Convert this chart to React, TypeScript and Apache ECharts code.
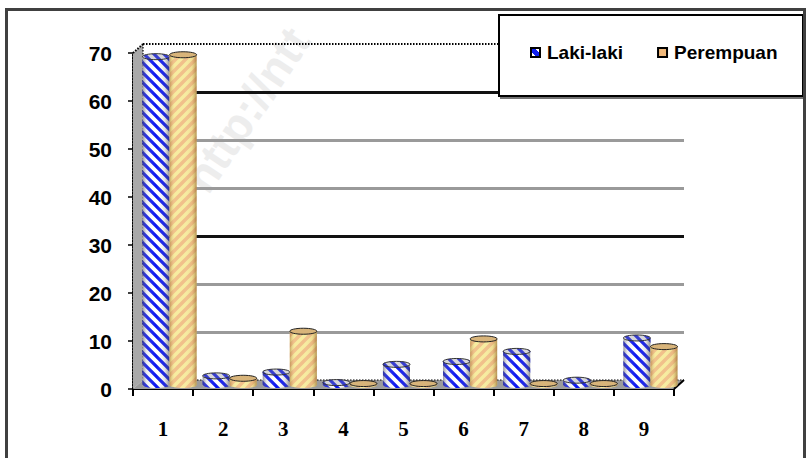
import React, { useEffect, useRef } from 'react';
import * as echarts from 'echarts';

// Category labels along the horizontal axis
const categories = ['1', '2', '3', '4', '5', '6', '7', '8', '9'];
// Series values (percent)
const lakiLaki = [68.4, 1.9, 2.7, 0.5, 4.3, 4.9, 7.0, 1.0, 9.8];
const perempuan = [68.8, 1.4, 11.2, 0.3, 0.3, 9.6, 0.3, 0.3, 8.0];
const seriesNames = ['Laki-laki', 'Perempuan'];
// Value axis range
const yMin = 0;
const yMax = 70;
const yStep = 10;

// pseudo-3D depth of the plot box (px)
const DX = 10;
const DY = -9;
const BAR_RATIO = 0.45;
const BAR_SHIFT_X = 6.5;
const BAR_SHIFT_Y = -4;
const CAP_RY = 3;

function stripeTile(bg: string, stripe: string, dir: 'back' | 'fwd', s: number, sw: number) {
  const h = s / 2;
  const d =
    dir === 'back'
      ? `M${-h} ${-h}L${s + h} ${s + h}M${-h} ${h}L${h} ${s + h}M${h} ${-h}L${s + h} ${h}`
      : `M${-h} ${s + h}L${s + h} ${-h}M${-h} ${h}L${h} ${-h}M${h} ${s + h}L${s + h} ${h}`;
  const svg = `<svg xmlns='http://www.w3.org/2000/svg' width='${s}' height='${s}'><rect width='${s}' height='${s}' fill='${bg}'/><path d='${d}' stroke='${stripe}' stroke-width='${sw}' fill='none'/></svg>`;
  return {
    image: 'data:image/svg+xml;charset=utf-8,' + encodeURIComponent(svg),
    repeat: 'repeat',
    imageWidth: s,
    imageHeight: s,
  };
}

const blueFill = stripeTile('#ffffff', '#0a14f0', 'back', 10, 3.2);
const tanFill = stripeTile('#f1c08a', '#f7ec9f', 'fwd', 10, 3.6);

const blueShade = {
  type: 'linear', x: 0, y: 0, x2: 1, y2: 0,
  colorStops: [
    { offset: 0, color: 'rgba(70,70,90,0.6)' },
    { offset: 0.15, color: 'rgba(160,160,170,0.2)' },
    { offset: 0.5, color: 'rgba(255,255,255,0)' },
    { offset: 0.82, color: 'rgba(130,130,140,0.2)' },
    { offset: 1, color: 'rgba(60,60,70,0.6)' },
  ],
};
const tanShade = {
  type: 'linear', x: 0, y: 0, x2: 1, y2: 0,
  colorStops: [
    { offset: 0, color: 'rgba(150,100,40,0.5)' },
    { offset: 0.2, color: 'rgba(255,230,170,0.05)' },
    { offset: 0.5, color: 'rgba(255,255,255,0)' },
    { offset: 0.82, color: 'rgba(200,150,80,0.15)' },
    { offset: 1, color: 'rgba(130,85,30,0.6)' },
  ],
};

function cylinder(side: number, body: any, shade: any, caps: any[]) {
  return (params: any, api: any) => {
    const i = api.value(0);
    const v = api.value(1);
    const base = api.coord([i, 0]);
    const top = api.coord([i, v]);
    const band = api.size([1, 0])[0];
    const w = band * BAR_RATIO;
    const rx = w / 2;
    const cx = base[0] + BAR_SHIFT_X + (side * w) / 2;
    const by = base[1] + BAR_SHIFT_Y;
    const ty = Math.min(top[1] + BAR_SHIFT_Y, by - 0.5);
    const bodyShape = { x: cx - rx, y: ty, width: w, height: by - ty };
    return {
      type: 'group',
      children: [
        { type: 'ellipse', shape: { cx, cy: by, rx, ry: CAP_RY }, style: { fill: body } },
        { type: 'ellipse', shape: { cx, cy: by, rx, ry: CAP_RY }, style: { fill: shade } },
        { type: 'rect', shape: bodyShape, style: { fill: body } },
        { type: 'rect', shape: bodyShape, style: { fill: shade } },
        ...caps.map((c) => ({
          type: 'ellipse',
          shape: { cx, cy: ty, rx, ry: CAP_RY },
          style: c,
        })),
      ],
    };
  };
}

// side wall, floor and dotted box edges, laid out from the front grid's rect
function renderFrame(params: any) {
  const { x, y, width: w, height: h } = params.coordSys;
  const edge = { stroke: '#000', lineWidth: 2, lineDash: [1.5, 1.5] };
  return {
    type: 'group',
    children: [
      {
        type: 'polygon',
        shape: { points: [[x, y], [x + DX, y + DY], [x + DX, y + h + DY], [x, y + h]] },
        style: { fill: '#a9a9a9' },
      },
      {
        type: 'polygon',
        shape: { points: [[x, y + h], [x + DX, y + h + DY], [x + w + DX, y + h + DY], [x + w, y + h]] },
        style: { fill: '#9c9c9c' },
      },
      { type: 'line', shape: { x1: x + DX, y1: y + DY, x2: x + w + DX, y2: y + DY }, style: edge },
      { type: 'line', shape: { x1: x, y1: y, x2: x + DX, y2: y + DY }, style: edge },
      { type: 'line', shape: { x1: x + DX, y1: y + DY, x2: x + DX, y2: y + h + DY }, style: { ...edge, lineWidth: 1.2 } },
      { type: 'line', shape: { x1: x + DX, y1: y + h + DY, x2: x + w + DX, y2: y + h + DY }, style: { ...edge, lineWidth: 1.2 } },
      { type: 'line', shape: { x1: x + w, y1: y + h, x2: x + w + DX, y2: y + h + DY }, style: { stroke: '#000', lineWidth: 2 } },
    ],
  };
}

const FRONT = { left: 133, top: 53, width: 541, height: 336 };

export default function App() {
  const ref = useRef<HTMLDivElement>(null);

  useEffect(() => {
    if (!ref.current) return;
    const chart = echarts.init(ref.current, null, { renderer: 'svg' });
    const gridColors = ['rgba(0,0,0,0)', '#9a9a9a', '#9a9a9a', '#111', '#9a9a9a', '#9a9a9a', '#111', 'rgba(0,0,0,0)'];

    chart.setOption({
      animation: false,
      backgroundColor: '#fff',
      grid: [
        { ...FRONT, containLabel: false },
        {
          left: FRONT.left + DX,
          top: FRONT.top + DY,
          width: FRONT.width,
          height: FRONT.height,
          containLabel: false,
        },
      ],
      xAxis: [
        {
          type: 'category',
          gridIndex: 0,
          data: categories,
          axisLine: { show: true, lineStyle: { color: '#000', width: 2, type: [2, 1.5] } },
          axisTick: { show: true, length: 7, interval: 0, lineStyle: { color: '#000', width: 2 } },
          axisLabel: {
            margin: 29,
            color: '#000',
            fontFamily: '"Liberation Serif", "Times New Roman", serif',
            fontWeight: 'bold',
            fontSize: 21,
          },
          splitLine: { show: false },
        },
        {
          type: 'category',
          gridIndex: 1,
          data: categories,
          show: false,
        },
      ],
      yAxis: [
        {
          type: 'value',
          gridIndex: 0,
          min: yMin,
          max: yMax,
          interval: yStep,
          axisLine: { show: true, lineStyle: { color: '#000', width: 2, type: [1.5, 1.5] } },
          axisTick: { show: true, length: 5, lineStyle: { color: '#000', width: 1.5 } },
          axisLabel: {
            margin: 21,
            color: '#000',
            fontFamily: '"Liberation Sans", Arial, sans-serif',
            fontWeight: 'bold',
            fontSize: 21,
          },
          splitLine: { show: false },
        },
        {
          type: 'value',
          gridIndex: 1,
          min: yMin,
          max: yMax,
          interval: yStep,
          axisLine: { show: false },
          axisTick: { show: false },
          axisLabel: { show: false },
          splitLine: { show: true, lineStyle: { color: gridColors, width: 3 } },
        },
      ],
      legend: {
        data: [
          {
            name: seriesNames[0],
            icon: 'rect',
            itemStyle: {
              color: {
                type: 'linear', x: 1, y: 0, x2: 0, y2: 1,
                colorStops: [
                  { offset: 0, color: '#fff' },
                  { offset: 0.3, color: '#fff' },
                  { offset: 0.3, color: '#1020f0' },
                  { offset: 0.7, color: '#1020f0' },
                  { offset: 0.7, color: '#fff' },
                  { offset: 1, color: '#fff' },
                ],
              },
              borderColor: '#000',
              borderWidth: 2,
            },
          },
          {
            name: seriesNames[1],
            icon: 'rect',
            itemStyle: { color: '#f0b87a', borderColor: '#000', borderWidth: 2 },
          },
        ],
        left: 530,
        top: 43,
        padding: 0,
        itemWidth: 9,
        itemHeight: 9,
        itemGap: 34,
        z: 11,
        selectedMode: false,
        textStyle: {
          color: '#000',
          fontFamily: '"Liberation Sans", Arial, sans-serif',
          fontWeight: 'bold',
          fontSize: 19,
          padding: [0, 0, 0, 2],
        },
      },
      graphic: [
        {
          type: 'text',
          x: 214,
          y: 200,
          rotation: 0.98,
          z: -10,
          silent: true,
          style: {
            text: 'http://ntt',
            font: 'bold 46px "Liberation Sans", Arial, sans-serif',
            fill: '#ededed',
            textVerticalAlign: 'bottom',
          },
        },
        {
          type: 'rect',
          z: 10,
          silent: true,
          shape: { x: 499, y: 15, width: 304, height: 81 },
          style: {
            fill: '#fff',
            stroke: '#000',
            lineWidth: 2,
            shadowBlur: 0,
            shadowOffsetX: 2,
            shadowOffsetY: 2,
            shadowColor: 'rgba(0,0,0,0.55)',
          },
        },
        {
          type: 'rect',
          z: 50,
          silent: true,
          shape: { x: 6.5, y: 9.5, width: 798, height: 470 },
          style: { fill: 'none', stroke: '#404040', lineWidth: 3 },
        },
      ],
      series: [
        {
          type: 'custom',
          name: 'frame',
          xAxisIndex: 0,
          yAxisIndex: 0,
          z: 1,
          silent: true,
          clip: false,
          data: [[0, 0]],
          renderItem: renderFrame,
        },
        {
          type: 'custom',
          name: seriesNames[0],
          xAxisIndex: 0,
          yAxisIndex: 0,
          z: 3,
          clip: false,
          encode: { x: 0, y: 1 },
          data: lakiLaki.map((v, i) => [i, v]),
          renderItem: cylinder(-1, blueFill, blueShade, [
            { fill: blueFill },
            { fill: 'rgba(140,140,150,0.35)', stroke: '#333', lineWidth: 1 },
          ]),
        },
        {
          type: 'custom',
          name: seriesNames[1],
          xAxisIndex: 0,
          yAxisIndex: 0,
          z: 3,
          clip: false,
          encode: { x: 0, y: 1 },
          data: perempuan.map((v, i) => [i, v]),
          renderItem: cylinder(1, tanFill, tanShade, [
            { fill: '#d8b47a', stroke: '#222', lineWidth: 1 },
          ]),
        },
      ],
    });

    return () => chart.dispose();
  }, []);

  return (
    <div
      ref={ref}
      style={{ position: 'absolute', left: 0, top: 0, width: 807, height: 458 }}
    />
  );
}
